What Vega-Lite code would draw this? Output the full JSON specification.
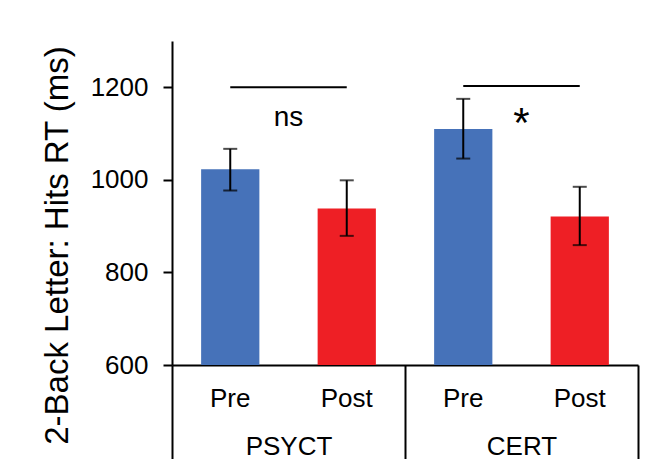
{
  "$schema": "https://vega.github.io/schema/vega-lite/v6.json",
  "width": 466,
  "height": 324,
  "autosize": "none",
  "padding": {"left": 172, "top": 41, "right": 32, "bottom": 94},
  "config": {"view": {"stroke": null}, "font": "Liberation Sans"},
  "datasets": {
    "bars": [
      {"group": "PSYCT", "phase": "Pre", "slot": "PSYCT Pre", "mean": 1023, "lo": 977, "hi": 1067},
      {"group": "PSYCT", "phase": "Post", "slot": "PSYCT Post", "mean": 938, "lo": 879, "hi": 999},
      {"group": "CERT", "phase": "Pre", "slot": "CERT Pre", "mean": 1110, "lo": 1046, "hi": 1175},
      {"group": "CERT", "phase": "Post", "slot": "CERT Post", "mean": 921, "lo": 859, "hi": 985}
    ],
    "sig": [
      {"group": "PSYCT", "from": "PSYCT Pre", "to": "PSYCT Post", "y": 1200, "label": "ns", "ty": 1116},
      {"group": "CERT", "from": "CERT Pre", "to": "CERT Post", "y": 1203, "label": "*", "ty": 1092}
    ]
  },
  "layer": [
    {
      "layer": [
        {
          "data": {"name": "bars"},
          "mark": {"type": "bar"},
          "encoding": {
            "x": {
              "field": "slot", "type": "nominal", "sort": null,
              "scale": {"paddingInner": 0.5, "paddingOuter": 0.25},
              "axis": {
                "orient": "bottom", "title": null, "ticks": false,
                "domain": true, "domainColor": "#000000", "domainWidth": 2,
                "labelExpr": "slice(datum.value, indexof(datum.value, ' ') + 1)",
                "labelFontSize": 26, "labelColor": "#000000", "labelPadding": 20,
                "labelAngle": 0, "grid": false, "labelOverlap": false
              }
            },
            "y": {
              "field": "mean", "type": "quantitative",
              "scale": {"domain": [600, 1300], "nice": false, "zero": false},
              "axis": {
                "values": [600, 800, 1000, 1200], "format": "d",
                "title": "2-Back Letter: Hits RT (ms)",
                "titleFontSize": 33, "titleFontWeight": "normal", "titleColor": "#000000",
                "titlePadding": 16, "titleY": 204,
                "domain": true, "domainColor": "#000000", "domainWidth": 2,
                "ticks": true, "tickSize": 9, "tickWidth": 2, "tickColor": "#000000",
                "labelFontSize": 26, "labelColor": "#000000", "labelPadding": 15,
                "grid": false
              }
            },
            "y2": {"datum": 600},
            "color": {
              "field": "phase", "type": "nominal",
              "scale": {"domain": ["Pre", "Post"], "range": ["#4672B9", "#EE1F25"]},
              "legend": null
            }
          }
        },
        {
          "data": {"name": "bars"},
          "mark": {"type": "rule", "color": "#000000", "strokeWidth": 2},
          "encoding": {
            "x": {"field": "slot", "type": "nominal", "sort": null},
            "y": {"field": "lo", "type": "quantitative"},
            "y2": {"field": "hi"}
          }
        },
        {
          "data": {"name": "bars"},
          "mark": {"type": "tick", "color": "#000000", "thickness": 2, "size": 14},
          "encoding": {
            "x": {"field": "slot", "type": "nominal", "sort": null},
            "y": {"field": "lo", "type": "quantitative"}
          }
        },
        {
          "data": {"name": "bars"},
          "mark": {"type": "tick", "color": "#000000", "thickness": 2, "size": 14},
          "encoding": {
            "x": {"field": "slot", "type": "nominal", "sort": null},
            "y": {"field": "hi", "type": "quantitative"}
          }
        },
        {
          "data": {"name": "sig"},
          "mark": {"type": "rule", "color": "#000000", "strokeWidth": 2},
          "encoding": {
            "x": {"field": "from", "type": "nominal", "sort": null},
            "x2": {"field": "to"},
            "y": {"field": "y", "type": "quantitative"}
          }
        }
      ]
    },
    {
      "data": {"name": "sig"},
      "mark": {"type": "text", "color": "#000000", "baseline": "alphabetic", "fontSize": 28},
      "encoding": {
        "x": {
          "field": "group", "type": "nominal", "sort": ["PSYCT", "CERT"],
          "scale": {"domain": ["PSYCT", "CERT"], "paddingInner": 0, "paddingOuter": 0},
          "axis": {
            "orient": "bottom", "title": null, "domain": false,
            "ticks": true, "tickBand": "extent", "tickSize": 96, "tickWidth": 2, "tickColor": "#000000",
            "labelFontSize": 26, "labelColor": "#000000", "labelPadding": -28, "labelAngle": 0,
            "grid": false
          }
        },
        "y": {"field": "ty", "type": "quantitative"},
        "text": {"field": "label"},
        "size": {
          "field": "label", "type": "nominal",
          "scale": {"domain": ["ns", "*"], "range": [28, 42]},
          "legend": null
        },
        "fontWeight": {"condition": {"test": "datum.label === '*'", "value": "bold"}, "value": "normal"}
      }
    }
  ],
  "resolve": {"scale": {"x": "independent"}, "axis": {"x": "independent"}}
}
